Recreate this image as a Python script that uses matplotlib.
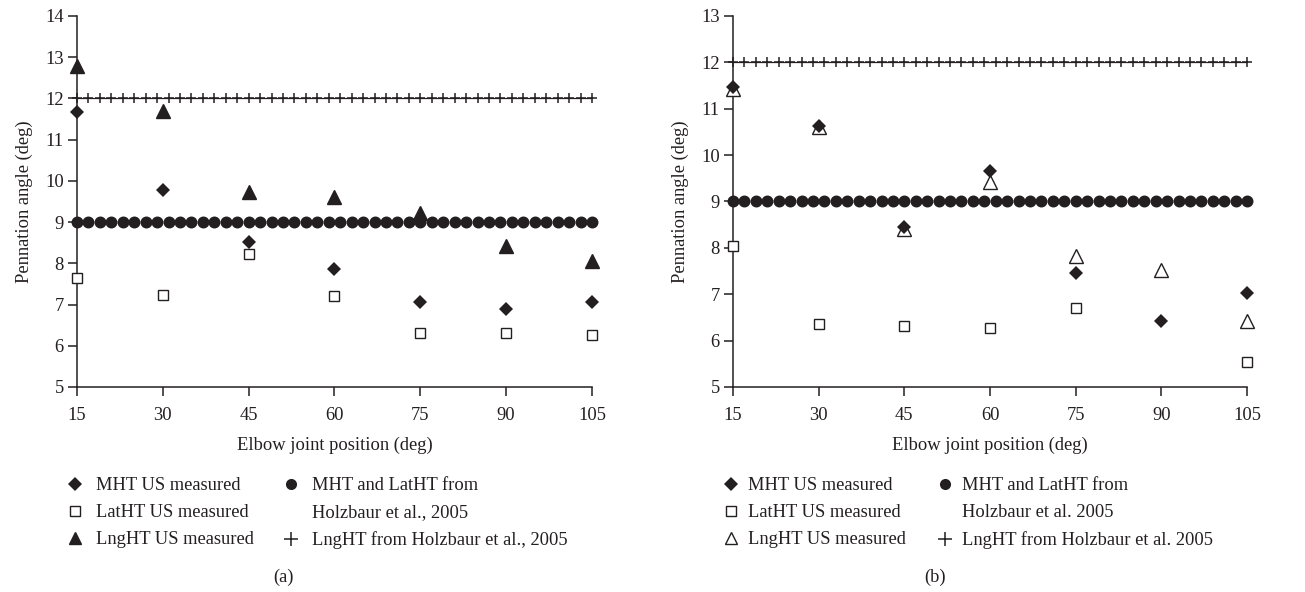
import numpy as np
import matplotlib.pyplot as plt
from matplotlib.lines import Line2D

plt.rcParams['font.family'] = ['Liberation Serif', 'DejaVu Serif']
plt.rcParams['font.size'] = 13.3

ink = '#231f20'
fs = 13.3

# elbow positions of the measurements
angles = [15, 30, 45, 60, 75, 90, 105]

# (a)
mht_a = [11.66, 9.79, 8.51, 7.86, 7.07, 6.88, 7.07]
lat_a = [7.65, 7.24, 8.23, 7.20, 6.32, 6.32, 6.26]
lng_a = [12.78, 11.70, 9.72, 9.62, 9.22, 8.41, 8.05]

# (b)
mht_b = [11.46, 10.63, 8.44, 9.66, 7.46, 6.42, 7.03]
lat_b = [8.03, 6.36, 6.31, 6.28, 6.71, np.nan, 5.54]
lng_b = [11.42, 10.60, 8.40, 9.43, 7.82, 7.53, 6.42]

# Holzbaur et al. 2005 reference values
ref_x = np.arange(15, 106, 2)
holz_mht_lat = 9.0
holz_lng = 12.0

fig = plt.figure(figsize=(13.05, 5.92), dpi=100)
ax_a = fig.add_axes([0.059, 0.3463, 0.3946, 0.6267])
ax_b = fig.add_axes([0.5617, 0.3463, 0.3939, 0.6267])


def draw(ax, mht, lat, lng, lng_fill, ymax, year_txt, txtpad, colsp):
    ax.plot(ref_x, np.full(len(ref_x), holz_lng), ls='-', lw=0.9, marker='+',
            ms=7, mew=1.1, color=ink, zorder=2, clip_on=False)
    ax.plot(ref_x, np.full(len(ref_x), holz_mht_lat), ls='none', marker='o',
            ms=8.6, mew=0, color=ink, zorder=2, clip_on=False)
    ax.plot(angles, lng, ls='none', marker='^', ms=9.5, mew=1.0,
            mfc=lng_fill, mec=ink, zorder=3, clip_on=False)
    ax.plot(angles, lat, ls='none', marker='s', ms=7.5, mew=1.0,
            mfc='white', mec=ink, zorder=3, clip_on=False)
    ax.plot(angles, mht, ls='none', marker='D', ms=7.5, mew=0,
            color=ink, zorder=4, clip_on=False)

    ax.set_xlim(15, 105)
    ax.set_ylim(5, ymax)
    ax.set_xticks(angles)
    ax.set_yticks(range(5, ymax + 1))
    for s in ['top', 'right']:
        ax.spines[s].set_visible(False)
    for s in ['left', 'bottom']:
        ax.spines[s].set_color(ink)
        ax.spines[s].set_linewidth(1.1)
    ax.tick_params(direction='out', length=6.5, width=1.1, color=ink,
                   labelcolor=ink, labelsize=fs)
    ax.tick_params(axis='x', pad=8)
    ax.tick_params(axis='y', pad=3)
    ax.set_xlabel('Elbow joint position (deg)', color=ink, fontsize=fs, labelpad=9)
    ax.set_ylabel('Pennation angle (deg)', color=ink, fontsize=fs, labelpad=9)

    handles = [
        Line2D([], [], ls='none', marker='D', ms=7, mew=0, color=ink),
        Line2D([], [], ls='none', marker='s', ms=7, mew=1.0, mfc='white', mec=ink),
        Line2D([], [], ls='none', marker='^', ms=9, mew=1.0, mfc=lng_fill, mec=ink),
        Line2D([], [], ls='none', marker='o', ms=8, mew=0, color=ink),
        Line2D([], [], ls='none', marker='none'),
        Line2D([], [], ls='none', marker='+', ms=10, mew=1.1, color=ink),
    ]
    labels = ['MHT US measured', 'LatHT US measured', 'LngHT US measured',
              'MHT and LatHT from', 'Holzbaur et al' + year_txt,
              'LngHT from Holzbaur et al' + year_txt]
    leg = ax.legend(handles, labels, ncol=2, loc='upper left',
                    bbox_to_anchor=(-0.022, -0.243), frameon=False,
                    handlelength=1.0, handletextpad=txtpad, labelspacing=0.55,
                    columnspacing=colsp, borderaxespad=0, borderpad=0, fontsize=fs)
    for t in leg.get_texts():
        t.set_color(ink)


draw(ax_a, mht_a, lat_a, lng_a, ink, 14, '., 2005', 0.62, 1.55)
draw(ax_b, mht_b, lat_b, lng_b, 'white', 13, '. 2005', 0.4, 1.65)

fig.text(0.2169, 0.024, '(a)', ha='center', va='center', color=ink, fontsize=fs)
fig.text(0.7165, 0.024, '(b)', ha='center', va='center', color=ink, fontsize=fs)

fig.savefig('out.png', dpi=100)
